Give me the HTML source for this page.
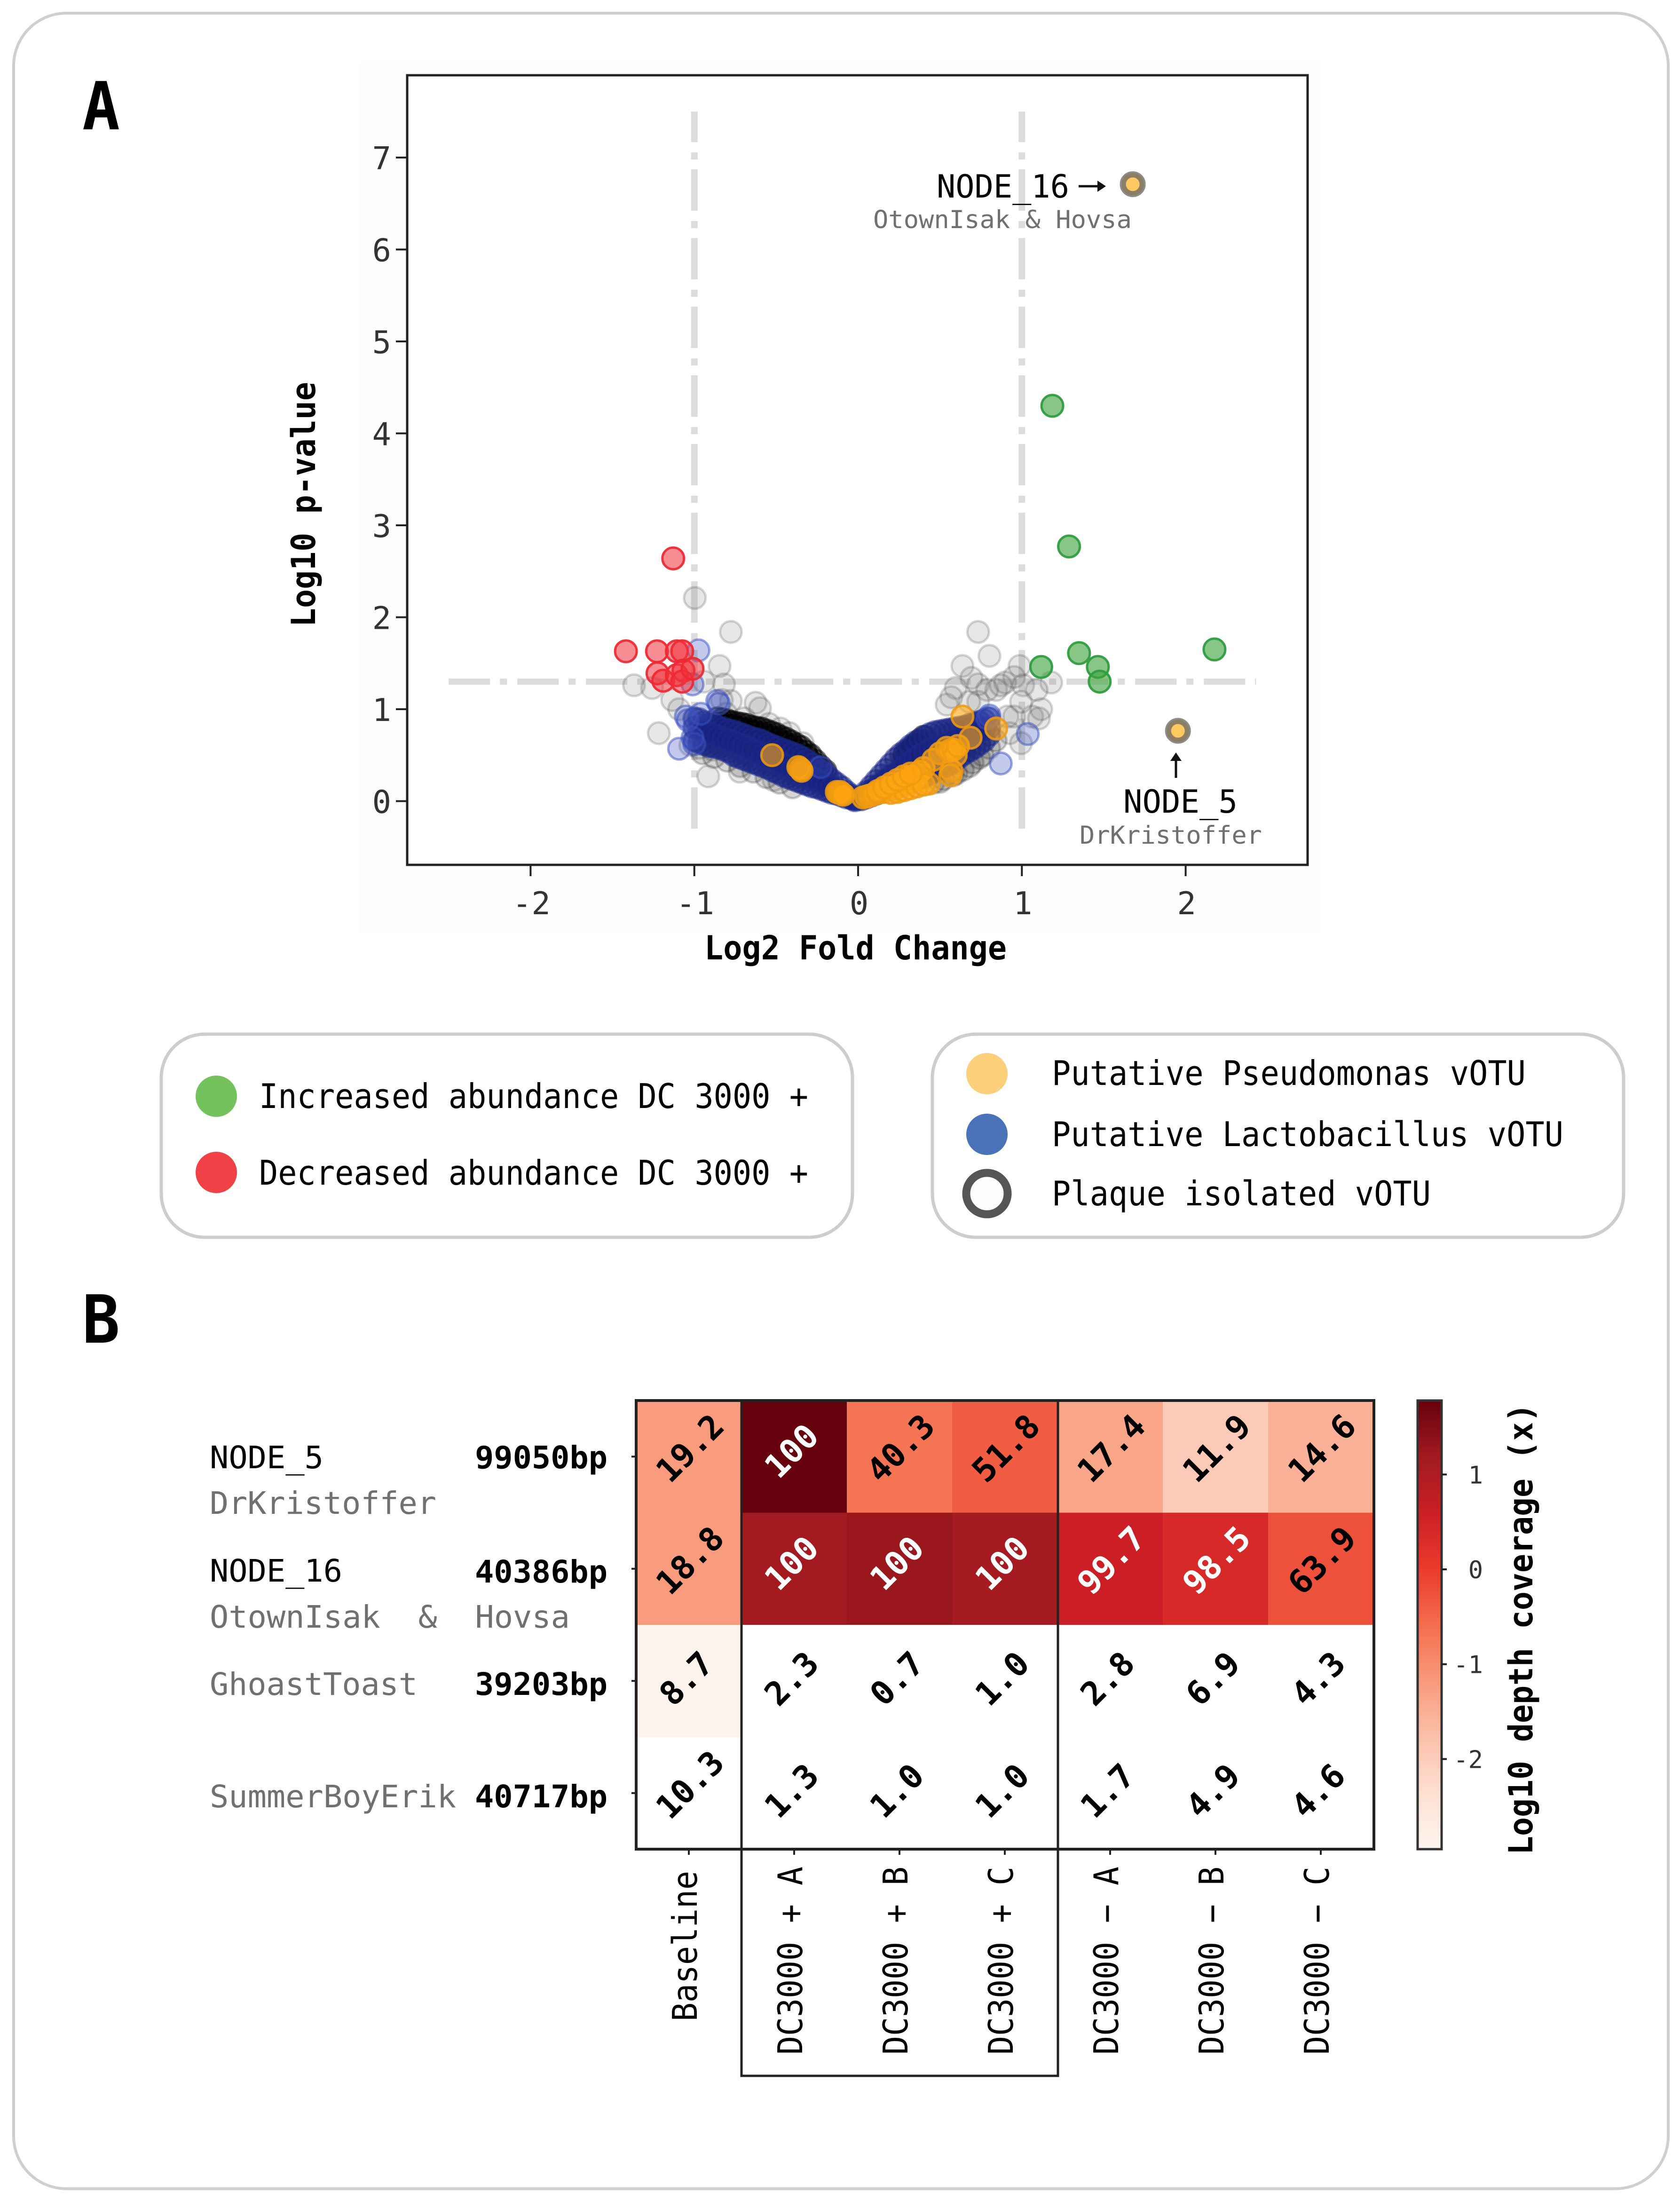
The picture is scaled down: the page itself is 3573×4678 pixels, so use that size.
<!DOCTYPE html>
<html lang="en">
<head>
<meta charset="utf-8">
<title>Volcano plot and coverage heatmap</title>
<style>
html,body{margin:0;padding:0;background:#fff;width:3573px;height:4678px;overflow:hidden}
svg{display:block}
text{font-family:"DejaVu Sans Mono","Liberation Mono",monospace;white-space:pre}
.b{font-weight:bold}
.g{fill:#707070}
</style>
</head>
<body>
<svg id="fig" width="3573" height="4678" viewBox="0 0 3573 4678" xmlns="http://www.w3.org/2000/svg">
<defs>
<linearGradient id="redsGrad" x1="0" y1="1" x2="0" y2="0">
<stop offset="0" stop-color="#fff5f0"/><stop offset=".125" stop-color="#fee0d2"/><stop offset=".25" stop-color="#fbc0aa"/><stop offset=".375" stop-color="#f89a7b"/><stop offset=".5" stop-color="#f46d4d"/><stop offset=".625" stop-color="#ea3b2c"/><stop offset=".75" stop-color="#cb1f25"/><stop offset=".875" stop-color="#a11a20"/><stop offset="1" stop-color="#67000d"/>
</linearGradient>
</defs>
<rect x="29" y="28" width="3519" height="4626" rx="112" ry="112" fill="#fff" stroke="#cfcfcf" stroke-width="6"/>
<text class="b" x="175" y="275" font-size="141" textLength="80" lengthAdjust="spacingAndGlyphs">A</text>
<text class="b" x="175" y="2855" font-size="141" textLength="80" lengthAdjust="spacingAndGlyphs">B</text>

<rect x="765" y="130" width="2045" height="1855" fill="#fdfdfd"/>
<rect x="866" y="160" width="1915" height="1679" fill="#fff"/>
<g id="volcano-guides"></g>
<g id="volcano-marks"></g>
<rect x="866" y="160" width="1915" height="1679" fill="none" stroke="#222" stroke-width="5"/>
<g id="volcano-axes"></g>

<text class="b" x="1498" y="2040" font-size="70" textLength="643" lengthAdjust="spacingAndGlyphs">Log2 Fold Change</text>
<text class="b" transform="translate(670 1333) rotate(-90)" font-size="70" textLength="521" lengthAdjust="spacingAndGlyphs">Log10 p-value</text>

<text x="1992" y="420" font-size="68" textLength="282" lengthAdjust="spacingAndGlyphs">NODE_16</text>
<g><line x1="2294" y1="396" x2="2340" y2="396" stroke="#111" stroke-width="5"/><polygon points="2352,396 2334,384 2334,408" fill="#111"/></g>
<text class="g" x="1857" y="485" font-size="53" textLength="550" lengthAdjust="spacingAndGlyphs">OtownIsak &amp; Hovsa</text>
<g><line x1="2501" y1="1654" x2="2501" y2="1612" stroke="#111" stroke-width="5"/><polygon points="2501,1600 2489,1618 2513,1618" fill="#111"/></g>
<text x="2389" y="1728" font-size="68" textLength="243" lengthAdjust="spacingAndGlyphs">NODE_5</text>
<text class="g" x="2296" y="1794" font-size="53" textLength="388" lengthAdjust="spacingAndGlyphs">DrKristoffer</text>

<g>
<rect x="343" y="2199" width="1470" height="432" rx="92" ry="92" fill="#fff" stroke="#cdcdcd" stroke-width="7"/>
<circle cx="460" cy="2331" r="44" fill="#74c25e"/>
<text x="551" y="2356" font-size="72" textLength="1168" lengthAdjust="spacingAndGlyphs">Increased abundance DC 3000 +</text>
<circle cx="460" cy="2493" r="44" fill="#ef4146"/>
<text x="551" y="2519" font-size="72" textLength="1168" lengthAdjust="spacingAndGlyphs">Decreased abundance DC 3000 +</text>
</g>
<g>
<rect x="1983" y="2199" width="1470" height="432" rx="92" ry="92" fill="#fff" stroke="#cdcdcd" stroke-width="7"/>
<circle cx="2099" cy="2283" r="44" fill="#fccf7a"/>
<text x="2237" y="2307" font-size="72" textLength="1008" lengthAdjust="spacingAndGlyphs">Putative Pseudomonas vOTU</text>
<circle cx="2099" cy="2412" r="44" fill="#4a72b8"/>
<text x="2237" y="2437" font-size="72" textLength="1088" lengthAdjust="spacingAndGlyphs">Putative Lactobacillus vOTU</text>
<circle cx="2099" cy="2538" r="44" fill="#fdfdfd" stroke="#555" stroke-width="17"/>
<text x="2237" y="2563" font-size="72" textLength="806" lengthAdjust="spacingAndGlyphs">Plaque isolated vOTU</text>
</g>

<g>
<text x="446" y="3122" font-size="66" textLength="242" lengthAdjust="spacingAndGlyphs">NODE_5</text>
<text class="b" x="1010" y="3122" font-size="66" textLength="282" lengthAdjust="spacingAndGlyphs">99050bp</text>
<text class="g" x="446" y="3219" font-size="66" textLength="482" lengthAdjust="spacingAndGlyphs">DrKristoffer</text>
<text x="446" y="3363" font-size="66" textLength="282" lengthAdjust="spacingAndGlyphs">NODE_16</text>
<text class="b" x="1010" y="3365" font-size="66" textLength="282" lengthAdjust="spacingAndGlyphs">40386bp</text>
<text class="g" x="446" y="3461" font-size="66" xml:space="preserve" textLength="766" lengthAdjust="spacingAndGlyphs">OtownIsak  &amp;  Hovsa</text>
<text class="g" x="446" y="3604" font-size="66" textLength="442" lengthAdjust="spacingAndGlyphs">GhoastToast</text>
<text class="b" x="1010" y="3604" font-size="66" textLength="282" lengthAdjust="spacingAndGlyphs">39203bp</text>
<text class="g" x="446" y="3843" font-size="66" textLength="524" lengthAdjust="spacingAndGlyphs">SummerBoyErik</text>
<text class="b" x="1010" y="3843" font-size="66" textLength="282" lengthAdjust="spacingAndGlyphs">40717bp</text>
</g>
<g id="heat-cells"></g>
<rect x="1353" y="2978" width="1569" height="954" fill="none" stroke="#222" stroke-width="6"/>
<path d="M1577 2978V4414H2250V2978" fill="none" stroke="#222" stroke-width="5"/>
<g id="heat-axes"></g>
<rect x="3015" y="2978" width="51" height="954" fill="url(#redsGrad)" stroke="#333" stroke-width="5"/>
<g id="cbar-axis"></g>
<text class="b" transform="translate(3259 3944) rotate(-90)" font-size="70" textLength="960" lengthAdjust="spacingAndGlyphs">Log10 depth coverage (x)</text>
</svg>
<script>
const xTicks = [-2, -1, 0, 1, 2];
const yTicks = [0, 1, 2, 3, 4, 5, 6, 7];
const foldThresholds = [-1, 1];
const pThreshold = [1.3];

const grayX = [0.733,0.802,0.637,0.986,1.179,0.692,0.733,0.843,0.898,0.953,1.008,0.788,0.871,0.596,0.541,0.733,0.953,1.063,1.118,1.09,0.995,0.926,0.995,0.569,1.104,0.679,0.912,-0.997,-0.777,-0.846,-1.368,-1.258,-0.819,-0.942,-1.135,-0.777,-0.626,-0.599,-1.217,-0.915,-0.723,-1.093,-0.887,-0.97,-0.832,-0.516,-1.025,-0.475,-0.42,-0.338,-0.544,-0.805,-0.695];
const grayY = [1.84,1.58,1.47,1.47,1.29,1.34,1.27,1.21,1.29,1.35,1.26,1.21,1.26,1.23,1.05,1.08,0.92,0.92,1.0,1.21,1.08,0.74,0.63,1.13,0.9,1.08,0.92,2.21,1.84,1.47,1.26,1.23,1.27,1.3,1.1,1.09,1.07,1.01,0.74,0.27,0.32,1.0,0.56,0.58,1.1,0.23,0.61,0.79,0.74,0.63,0.84,0.95,0.9];

const denseGrayX = [-0.86,-0.83,-0.8,-0.77,-0.74,-0.71,-0.68,-0.65,-0.62,-0.59,-0.56,-0.53,-0.5,-0.47,-0.44,-0.41,-0.38,-0.35,-0.32,-0.29,-0.26,-0.23,-0.2,-0.85,-0.81,-0.76,-0.72,-0.67,-0.63,-0.58,-0.54,-0.49,-0.45,-0.4,-0.36,-0.31,-0.27,-0.22,0.28,0.31,0.34,0.37,0.4,0.29,0.33,0.36];
const denseGrayY = [0.9,0.89,0.88,0.86,0.85,0.84,0.83,0.81,0.8,0.79,0.77,0.75,0.73,0.7,0.68,0.65,0.62,0.59,0.54,0.5,0.44,0.38,0.33,0.85,0.84,0.82,0.8,0.78,0.76,0.74,0.71,0.68,0.64,0.6,0.55,0.49,0.41,0.34,0.5,0.55,0.6,0.65,0.7,0.47,0.56,0.61];

const softGrayX = [-0.95,-0.88,-0.8,-0.72,-0.64,-0.56,-0.48,-0.4,0.46,0.52,0.58,0.64,0.7,0.76,0.8,0.84,0.5,0.6,0.68,0.74];
const softGrayY = [0.52,0.48,0.44,0.38,0.32,0.26,0.2,0.15,0.2,0.24,0.28,0.34,0.42,0.5,0.58,0.66,0.21,0.3,0.38,0.47];

const blueLeftX = [-1,-0.97,-0.94,-0.91,-0.88,-0.85,-0.82,-0.79,-0.76,-0.73,-0.7,-0.67,-0.64,-0.61,-0.58,-0.55,-0.52,-0.49,-0.46,-0.43,-0.4,-0.37,-0.34,-0.31,-0.28,-0.25,-0.22,-0.19,-0.16,-0.13,-0.1,-0.07,-0.04,-0.02];
const blueLeftUpperY = [0.9,0.89,0.86,0.84,0.83,0.8,0.79,0.77,0.76,0.74,0.72,0.7,0.68,0.67,0.65,0.62,0.6,0.58,0.56,0.54,0.52,0.5,0.47,0.44,0.4,0.36,0.32,0.28,0.23,0.19,0.15,0.1,0.06,0.03];
const blueLeftMiddleY = [0.8,0.78,0.76,0.74,0.72,0.7,0.68,0.66,0.64,0.62,0.6,0.58,0.55,0.53,0.5,0.47,0.45,0.43,0.4,0.38,0.35,0.33,0.3,0.28,0.25,0.22,0.2,0.17,0.15,0.12,0.09,0.07,0.04,0.02];
const blueLeftLowerY = [0.66,0.64,0.62,0.6,0.59,0.58,0.56,0.54,0.5,0.48,0.46,0.44,0.42,0.4,0.38,0.36,0.33,0.31,0.28,0.26,0.24,0.22,0.2,0.18,0.16,0.15,0.13,0.11,0.09,0.08,0.06,0.04,0.03,0.01];

const blueRightX = [0.02,0.05,0.08,0.11,0.14,0.17,0.2,0.23,0.26,0.29,0.32,0.35,0.38,0.41,0.44,0.47,0.5,0.53,0.56,0.59,0.62,0.65,0.68,0.71,0.74,0.77,0.8];
const blueRightUpperY = [0.04,0.1,0.16,0.22,0.28,0.34,0.4,0.46,0.51,0.55,0.6,0.64,0.67,0.7,0.73,0.75,0.76,0.77,0.78,0.79,0.8,0.81,0.83,0.84,0.86,0.88,0.9];
const blueRightMiddleY = [0.03,0.07,0.11,0.15,0.19,0.23,0.27,0.3,0.34,0.38,0.42,0.46,0.5,0.53,0.56,0.58,0.6,0.62,0.64,0.66,0.68,0.7,0.72,0.74,0.76,0.78,0.8];
const blueRightLowerY = [0.02,0.04,0.06,0.08,0.1,0.12,0.13,0.15,0.17,0.19,0.21,0.23,0.25,0.27,0.3,0.33,0.36,0.38,0.4,0.44,0.48,0.52,0.55,0.58,0.62,0.66,0.72];

const blueOutlierX = [-0.975,-1.011,-0.86,-0.85,1.036,0.871,-1.093,-1.052,-1.011,-1.04,0.802,0.79,-0.228,-1.0,-0.96];
const blueOutlierY = [1.64,1.27,1.09,1.06,0.73,0.41,0.57,0.92,0.69,0.88,0.93,0.9,0.37,0.62,0.95];

const orangeX = [-0.525,-0.365,-0.352,-0.345,-0.13,-0.118,-0.11,-0.1,-0.09,0.03,0.05,0.07,0.09,0.1,0.12,0.13,0.15,0.17,0.18,0.2,0.22,0.24,0.25,0.27,0.29,0.3,0.31,0.33,0.34,0.36,0.376,0.4,0.431,0.459,0.5,0.541,0.56,0.563,0.57,0.582,0.596,0.61,0.637,0.687,0.843,0.2,0.24,0.28,0.32,0.36,0.4,0.12,0.16,0.2,0.24,0.28,0.32];
const orangeY = [0.5,0.37,0.35,0.33,0.1,0.09,0.1,0.08,0.07,0.04,0.05,0.06,0.07,0.08,0.09,0.1,0.1,0.12,0.13,0.14,0.15,0.17,0.18,0.2,0.21,0.19,0.23,0.27,0.24,0.29,0.32,0.36,0.19,0.45,0.52,0.58,0.55,0.28,0.33,0.56,0.5,0.6,0.92,0.69,0.79,0.09,0.1,0.12,0.14,0.16,0.18,0.11,0.15,0.19,0.23,0.27,0.3];

const decreasedX = [-1.129,-1.418,-1.228,-1.107,-1.074,-1.225,-1.19,-1.107,-1.066,-1.074,-1.011];
const decreasedY = [2.64,1.63,1.63,1.63,1.63,1.39,1.31,1.37,1.42,1.3,1.44];
const increasedX = [1.186,1.288,2.176,1.349,1.118,1.464,1.475];
const increasedY = [4.3,2.77,1.65,1.61,1.46,1.46,1.3];
const plaqueX = [1.677,1.953];
const plaqueY = [6.71,0.765];

const heatRows = ['node-5','node-16','ghoasttoast','summerboyerik'];
const heatColumns = ['Baseline','DC3000 + A','DC3000 + B','DC3000 + C','DC3000 \u2212 A','DC3000 \u2212 B','DC3000 \u2212 C'];
const coverageRow1 = ['19.2','100','40.3','51.8','17.4','11.9','14.6'];
const coverageRow2 = ['18.8','100','100','100','99.7','98.5','63.9'];
const coverageRow3 = ['8.7','2.3','0.7','1.0','2.8','6.9','4.3'];
const coverageRow4 = ['10.3','1.3','1.0','1.0','1.7','4.9','4.6'];
const depthRow1 = [-1.2,1.79,-0.67,-0.39,-1.34,-1.95,-1.53];
const depthRow2 = [-1.2,1.17,1.27,1.12,0.6,0.37,-0.25];
const depthRow3 = [-2.9,null,null,null,null,null,null];
const depthRow4 = [null,null,null,null,null,null,null];
const colorbarTicks = [1,0,-1,-2];
const colorbarMin = [-2.95];
const colorbarMax = [1.79];
const redsPalette = ['#fff5f0','#fee0d2','#fbc0aa','#f89a7b','#f46d4d','#ea3b2c','#cb1f25','#a11a20','#67000d'];

const NS = 'http://www.w3.org/2000/svg';
const xScale = v => 1825 + 348.3 * v;
const yScale = v => 1703.5 - 195.5 * v;
const heatX = i => 1353 + 224 * (i + 0.5);
const heatY = j => 2978 + 238.5 * (j + 0.5);
const cbarY = v => 3337 - 201.7 * v;

function make(parent, tag, attrs, text) {
  const el = document.createElementNS(NS, tag);
  for (const k in attrs) el.setAttribute(k, attrs[k]);
  if (text !== undefined) el.textContent = text;
  parent.appendChild(el);
  return el;
}
function mark(parent, tag, attrs, name, text) {
  const el = make(parent, tag, attrs, text);
  
  
  return el;
}

const guides = document.getElementById('volcano-guides');
foldThresholds.forEach(v => {
  mark(guides, 'line', {x1:xScale(v),x2:xScale(v),y1:yScale(-0.3),y2:yScale(7.5),stroke:'#dcdcdc','stroke-width':14,'stroke-dasharray':'88 21 15 22'}, 'fold-threshold-line');
});
pThreshold.forEach(v => {
  mark(guides, 'line', {x1:xScale(-2.5),x2:xScale(2.43),y1:yScale(v),y2:yScale(v),stroke:'#dcdcdc','stroke-width':13,'stroke-dasharray':'88 21 15 22'}, 'p-threshold-line');
});

const marks = document.getElementById('volcano-marks');
function scatter(xs, ys, style, name) {
  xs.forEach((x, i) => {
    mark(marks, 'circle', Object.assign({cx:xScale(x), cy:yScale(ys[i]), r:23, 'stroke-width':5}, style), name);
  });
}
const grayStyle = {fill:'#777', 'fill-opacity':.18, stroke:'#444', 'stroke-opacity':.22};
const softStyle = {fill:'#333', 'fill-opacity':.2, stroke:'#222', 'stroke-opacity':.22};
const denseStyle = {fill:'#000', 'fill-opacity':.4, stroke:'#000', 'stroke-opacity':.5};
const blueStyle = {fill:'#17227e', 'fill-opacity':.5, stroke:'#1c2a8c', 'stroke-opacity':.5};
const orangeStyle = {fill:'#ffa510', 'fill-opacity':.6, stroke:'#ee9a10', 'stroke-opacity':.85};
const redStyle = {fill:'#f0323c', 'fill-opacity':.55, stroke:'#ee2a34', 'stroke-opacity':.95};
const greenStyle = {fill:'#3ea33e', 'fill-opacity':.62, stroke:'#2f9e3f', 'stroke-opacity':.95};

scatter(grayX, grayY, grayStyle, 'nonsignificant-point');
scatter(softGrayX, softGrayY, softStyle, 'nonsignificant-point');
scatter(denseGrayX, denseGrayY, denseStyle, 'nonsignificant-point');
scatter(blueLeftX, blueLeftLowerY, blueStyle, 'lactobacillus-point');
scatter(blueLeftX, blueLeftUpperY, blueStyle, 'lactobacillus-point');
scatter(blueLeftX, blueLeftMiddleY, blueStyle, 'lactobacillus-point');
scatter(blueRightX, blueRightLowerY, blueStyle, 'lactobacillus-point');
scatter(blueRightX, blueRightUpperY, blueStyle, 'lactobacillus-point');
scatter(blueRightX, blueRightMiddleY, blueStyle, 'lactobacillus-point');
const outlierBlueStyle = {fill:'#3a50c0', 'fill-opacity':.3, stroke:'#3a50c0', 'stroke-opacity':.5};
scatter(blueOutlierX, blueOutlierY, outlierBlueStyle, 'lactobacillus-point');
scatter(orangeX, orangeY, orangeStyle, 'pseudomonas-point');
scatter(decreasedX, decreasedY, redStyle, 'decreased-point');
scatter(increasedX, increasedY, greenStyle, 'increased-point');
plaqueX.forEach((x, i) => {
  mark(marks, 'circle', {cx:xScale(x), cy:yScale(plaqueY[i]), r:24, fill:'#ffc860'}, 'plaque-point');
  mark(marks, 'circle', {cx:xScale(x), cy:yScale(plaqueY[i]), r:21, fill:'none', stroke:'#666', 'stroke-opacity':.75, 'stroke-width':13}, 'plaque-ring');
});

const axes = document.getElementById('volcano-axes');
xTicks.forEach(v => {
  mark(axes, 'line', {x1:xScale(v),x2:xScale(v),y1:1839,y2:1863,stroke:'#222','stroke-width':4}, 'x-tick');
  mark(axes, 'text', {x:xScale(v)+2,y:1944,'font-size':67,'text-anchor':'middle',fill:'#333'}, 'x-tick-label', String(v));
});
yTicks.forEach(v => {
  mark(axes, 'line', {x1:842,x2:866,y1:yScale(v),y2:yScale(v),stroke:'#222','stroke-width':4}, 'y-tick');
  mark(axes, 'text', {x:832,y:yScale(v)+25,'font-size':67,'text-anchor':'end',fill:'#333'}, 'y-tick-label', String(v));
});

function hexToRgb(h) { return [1,3,5].map(i => parseInt(h.substr(i,2),16)); }
function redsColor(v) {
  const t = Math.max(0, Math.min(1, (v - colorbarMin[0]) / (colorbarMax[0] - colorbarMin[0])));
  const p = t * (redsPalette.length - 1);
  const i = Math.min(redsPalette.length - 2, Math.floor(p));
  const a = hexToRgb(redsPalette[i]), b = hexToRgb(redsPalette[i+1]);
  const f = p - i;
  return 'rgb(' + a.map((c, k) => Math.round(c + (b[k]-c)*f)).join(',') + ')';
}

const heatCells = document.getElementById('heat-cells');
const depthRows = [depthRow1, depthRow2, depthRow3, depthRow4];
const coverageRows = [coverageRow1, coverageRow2, coverageRow3, coverageRow4];
depthRows.forEach((row, j) => {
  row.forEach((v, i) => {
    mark(heatCells, 'rect', {x:heatX(i)-112, y:heatY(j)-119.25, width:224.5, height:239, fill: v === null ? '#fff' : redsColor(v)}, 'heat-cell-' + heatRows[j]);
  });
});
coverageRows.forEach((row, j) => {
  row.forEach((label, i) => {
    const v = depthRows[j][i];
    const isFull = label === '100';
    const sx = heatX(i) - (label.length === 4 ? 40 : 33);
    const sy = heatY(j) + (label.length === 4 ? 59 : (isFull ? 50 : 57));
    mark(heatCells, 'text', {transform:'translate(' + sx + ' ' + sy + ') rotate(-45)', 'font-size':70, 'font-weight':'bold', fill: (v !== null && v >= 0.3) ? '#fff' : '#000'}, 'coverage-value', label);
  });
});

const heatAxes = document.getElementById('heat-axes');
heatColumns.forEach((label, i) => {
  mark(heatAxes, 'line', {x1:heatX(i),x2:heatX(i),y1:3932,y2:3944,stroke:'#222','stroke-width':4}, 'heat-x-tick');
  const startY = i === 0 ? 4298 : 4369;
  const len = label.length * 40;
  mark(heatAxes, 'text', {transform:'translate(' + (heatX(i)+17) + ' ' + startY + ') rotate(-90)', 'font-size':72, textLength:len, lengthAdjust:'spacingAndGlyphs'}, 'heat-column-label', label);
});
heatRows.forEach((r, j) => {
  mark(heatAxes, 'line', {x1:1343,x2:1353,y1:heatY(j),y2:heatY(j),stroke:'#222','stroke-width':4}, 'heat-y-tick');
});

const cbarAxis = document.getElementById('cbar-axis');
colorbarTicks.forEach(v => {
  mark(cbarAxis, 'line', {x1:3066,x2:3077,y1:cbarY(v),y2:cbarY(v),stroke:'#222','stroke-width':4}, 'colorbar-tick');
  mark(cbarAxis, 'text', {x:3154,y:cbarY(v)+19,'font-size':52,'text-anchor':'end',fill:'#333'}, 'colorbar-tick-label', String(v));
});
</script>
</body>
</html>
